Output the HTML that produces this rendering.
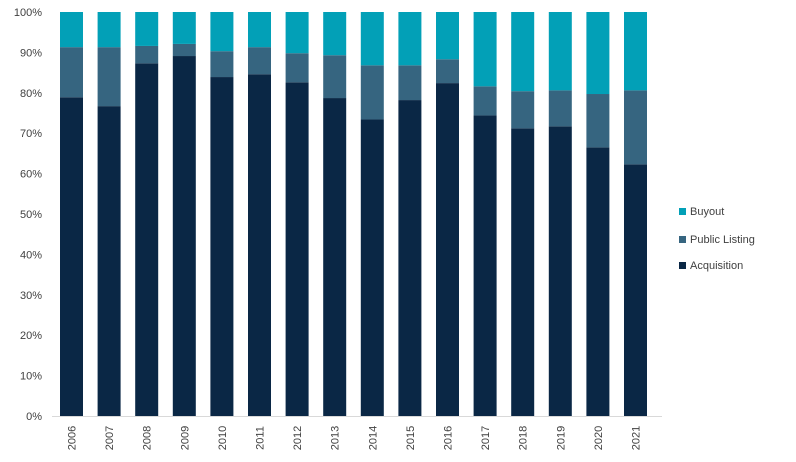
<!DOCTYPE html>
<html><head><meta charset="utf-8"><style>
body{margin:0;background:#fff;}
svg text{font-family:"Liberation Sans",sans-serif;fill:#404040;}
</style></head><body>
<svg width="796" height="457">
<g id="yaxis"></g><g id="bars"></g><g id="xaxis"></g>
<g id="legend"></g>
</svg>
<script>
const years=["2006","2007","2008","2009","2010","2011","2012","2013","2014","2015","2016","2017","2018","2019","2020","2021"];
const acquisition=[78.9,76.7,87.3,89.1,83.9,84.6,82.6,78.7,73.4,78.2,82.4,74.4,71.2,71.7,66.5,62.3];
const publicListing=[12.4,14.6,4.3,3.0,6.4,6.7,7.2,10.6,13.4,8.6,5.9,7.2,9.2,8.9,13.2,18.3];
const buyout=[8.7,8.7,8.4,7.9,9.7,8.7,10.2,10.7,13.2,13.2,11.7,18.4,19.6,19.4,20.3,19.4];
const yTicks=[0,10,20,30,40,50,60,70,80,90,100];
const NS="http://www.w3.org/2000/svg";
const y0=416,y1=12;
const y=v=>y0-(v/100)*(y0-y1);
const x=i=>60+i*37.6;
const bw=23;
function mk(t,a,p){const e=document.createElementNS(NS,t);for(const k in a)e.setAttribute(k,a[k]);p.appendChild(e);return e;}
const ya=document.getElementById('yaxis');
yTicks.forEach(t=>{
 const e=mk('text',{x:42,y:y(t)+4,'text-anchor':'end','font-size':11},ya);
 e.textContent=t+'%';
 
 
});
const bg=document.getElementById('bars'),xa=document.getElementById('xaxis');
const series=[[acquisition,'#0a2745','acquisition'],[publicListing,'#366580','public-listing'],[buyout,'#02a0b7','buyout']];
years.forEach((yr,i)=>{
 let base=0;
 series.forEach(([arr,c,n])=>{
  const v=arr[i];
  const r=mk('rect',{x:x(i),y:y(base+v),width:bw,height:y(base)-y(base+v),fill:c},bg);
  
  
  base+=v;
 });
 const cx=x(i)+bw/2+4;
 const t=mk('text',{x:cx,y:438,'text-anchor':'middle','font-size':11,transform:`rotate(-90 ${cx} 438)`},xa);
 t.textContent=yr;
 
 
});
mk('line',{x1:52,x2:662,y1:y0+0.5,y2:y0+0.5,stroke:'#d9d9d9'},xa);
const lg=document.getElementById('legend');
[['Buyout','#02a0b7',212],['Public Listing','#366580',240],['Acquisition','#0a2745',266]].forEach(([l,c,yy])=>{
 const g=mk('g',{},lg);
 
 
 mk('rect',{x:679,y:yy-4,width:7,height:7,fill:c},g);
 const t=mk('text',{x:690,y:yy+3,'font-size':11},g);t.textContent=l;
});
</script>
</body></html>
